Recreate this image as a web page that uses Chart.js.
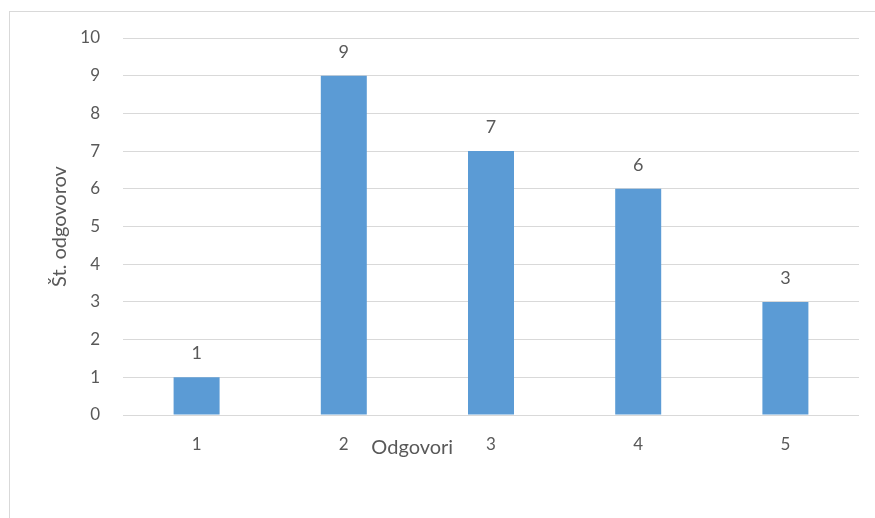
<!DOCTYPE html>
<html>
<head>
<meta charset="utf-8">
<script src="https://cdn.jsdelivr.net/npm/chart.js@4.4.1/dist/chart.umd.min.js"></script>
<style>
  html, body { margin: 0; padding: 0; background: #fff; overflow: hidden; }
  #wrap { position: relative; width: 875px; height: 518px; }
  #frame { position: absolute; left: 9px; top: 11px; width: 1000px; height: 1000px; border: 1px solid #d9d9d9; }
  #chart { position: absolute; left: 0; top: 0; }
</style>
</head>
<body>
<div id="wrap">
  <div id="frame"></div>
  <canvas id="chart" width="875" height="518"></canvas>
</div>
<script>
  const categories = ["1", "2", "3", "4", "5"];
  const counts = [1, 9, 7, 6, 3];
  const yTitle = "Št. odgovorov";
  const xTitle = "Odgovori";

  const TEXT = "#595959";
  const FONT = "Lato, 'Open Sans', sans-serif";

  // value labels above each bar
  const barLabels = {
    id: "barLabels",
    afterDatasetsDraw(chart) {
      const ctx = chart.ctx;
      const meta = chart.getDatasetMeta(0);
      ctx.save();
      ctx.fillStyle = TEXT;
      ctx.font = "18px " + FONT;
      ctx.textAlign = "center";
      ctx.textBaseline = "middle";
      meta.data.forEach((bar, i) => {
        ctx.fillText(String(counts[i]), bar.x, bar.y - 24);
      });
      ctx.restore();
    }
  };

  // x axis title sits on the tick row, left of centre
  const xAxisTitle = {
    id: "xAxisTitle",
    afterDraw(chart) {
      const ctx = chart.ctx;
      const area = chart.chartArea;
      ctx.save();
      ctx.fillStyle = TEXT;
      ctx.font = "20px " + FONT;
      ctx.textAlign = "center";
      ctx.textBaseline = "middle";
      ctx.fillText(xTitle, area.left + (area.right - area.left) * 0.393, area.bottom + 33);
      ctx.restore();
    }
  };

  new Chart(document.getElementById("chart"), {
    type: "bar",
    data: {
      labels: categories,
      datasets: [{
        data: counts,
        backgroundColor: "#5b9bd5",
        borderWidth: 0,
        barPercentage: 0.3125,
        categoryPercentage: 1
      }]
    },
    options: {
      responsive: false,
      animation: false,
      layout: { padding: { top: 38, right: 16, bottom: 0, left: 0 } },
      plugins: { legend: { display: false }, tooltip: { enabled: false } },
      scales: {
        x: {
          grid: { display: false, drawTicks: false },
          border: { display: false },
          ticks: { color: TEXT, font: { family: FONT, size: 17 }, padding: 19 },
          afterFit: s => { s.height = 103; }
        },
        y: {
          min: 0,
          max: 10,
          grid: { color: "#d9d9d9", lineWidth: 1, drawTicks: false },
          border: { display: false },
          ticks: { stepSize: 1, color: TEXT, font: { family: FONT, size: 17 }, padding: 23 },
          title: { display: true, text: yTitle, color: TEXT, font: { family: FONT, size: 20 }, padding: { top: 48, bottom: 0 } },
          afterFit: s => { s.width = 123; }
        }
      }
    },
    plugins: [barLabels, xAxisTitle]
  });
</script>
</body>
</html>
